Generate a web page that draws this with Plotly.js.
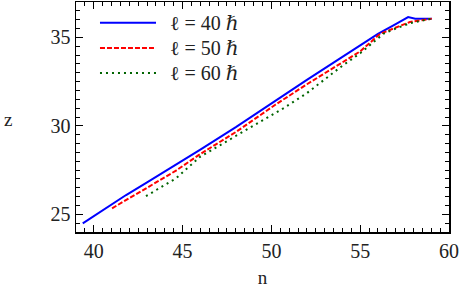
<!DOCTYPE html>
<html>
<head>
<meta charset="utf-8">
<script src="https://cdn.plot.ly/plotly-3.0.1.min.js"></script>
<style>html,body{margin:0;padding:0;background:#fff;}#chart{width:463px;height:288px;}</style>
</head>
<body>
<div id="chart"></div>
<script>
// Series l = 40 hbar
const n40 = [39.38, 40.0, 41.0, 41.82, 43.0, 44.63, 46.0, 48.0, 50.2, 52.0, 54.0, 55.0, 56.0, 57.0, 57.7, 58.1, 59.03];
const z40 = [24.49, 24.90, 25.55, 26.09, 26.80, 27.79, 28.66, 29.93, 31.42, 32.60, 33.90, 34.55, 35.20, 35.75, 36.15, 36.06, 36.06];
// Series l = 50 hbar
const n50 = [41.03, 42.0, 43.0, 44.63, 46.0, 48.0, 50.2, 52.0, 54.0, 55.0, 56.12, 57.0, 57.8, 59.03];
const z50 = [25.34, 25.90, 26.50, 27.47, 28.41, 29.65, 31.18, 32.35, 33.60, 34.21, 35.20, 35.55, 35.87, 36.06];
// Series l = 60 hbar
const n60 = [42.94, 44.0, 44.63, 46.0, 47.0, 48.0, 50.67, 52.0, 54.0, 55.0, 56.3, 57.0, 57.8, 59.03];
const z60 = [26.03, 26.65, 27.03, 28.26, 28.85, 29.45, 30.99, 31.85, 33.40, 34.10, 35.20, 35.50, 35.80, 36.06];
const seriesNames = ["ℓ = 40 ℏ", "ℓ = 50 ℏ", "ℓ = 60 ℏ"];
const xTicks = [40, 45, 50, 55, 60];
const yTicks = [25, 30, 35];

const font = {family: "'Liberation Serif', 'DejaVu Serif', serif", size: 20, color: '#222'};
const titleFont = {family: "'Liberation Serif', 'DejaVu Serif', serif", size: 19, color: '#222'};
const colors = ['#0000ff', '#ff0000', '#006400'];
const dashes = ['solid', '5px,2px', '2px,4px'];

const traces = [[n40, z40], [n50, z50], [n60, z60]].map((d, i) => ({
  x: d[0], y: d[1], mode: 'lines', type: 'scatter', name: seriesNames[i],
  line: {color: colors[i], width: 2, dash: dashes[i]}, showlegend: false
}));

const legY = [0.91, 0.80, 0.691];
const shapes = legY.map((y, i) => ({
  type: 'line', xref: 'paper', yref: 'paper', x0: 0.0643, x1: 0.2145, y0: y, y1: y,
  line: {color: colors[i], width: 2, dash: dashes[i]}
}));
const annotations = legY.map((y, i) => ({
  xref: 'paper', yref: 'paper', x: 0.2466, y: y, xanchor: 'left', yanchor: 'middle',
  text: seriesNames[i], showarrow: false, font: font
}));
annotations.push({
  xref: 'paper', yref: 'paper', x: -0.182, y: 0.49, xanchor: 'center', yanchor: 'middle',
  text: 'z', showarrow: false, font: titleFont, textangle: 0
});

const axisCommon = {
  showline: true, mirror: 'ticks', linecolor: '#000', linewidth: 1.5,
  ticks: 'inside', ticklen: 7, tickwidth: 1.2, tickcolor: '#000',
  showgrid: false, zeroline: false, tickfont: font,
  minor: {dtick: 0.5, ticks: 'inside', ticklen: 4, tickwidth: 1, tickcolor: '#000', showgrid: false}
};

const layout = {
  width: 463, height: 288,
  margin: {l: 76, r: 14, t: 2, b: 56},
  paper_bgcolor: '#fff', plot_bgcolor: '#fff',
  xaxis: Object.assign({}, axisCommon, {
    range: [39, 60], tickvals: xTicks, ticktext: xTicks.map(String),
    title: {text: 'n', font: titleFont, standoff: 10}
  }),
  yaxis: Object.assign({}, axisCommon, {
    range: [24, 37], tickvals: yTicks, ticktext: yTicks.map(String)
  }),
  shapes: shapes,
  annotations: annotations,
  showlegend: false
};

Plotly.newPlot('chart', traces, layout, {staticPlot: true, displayModeBar: false});
</script>
</body>
</html>
